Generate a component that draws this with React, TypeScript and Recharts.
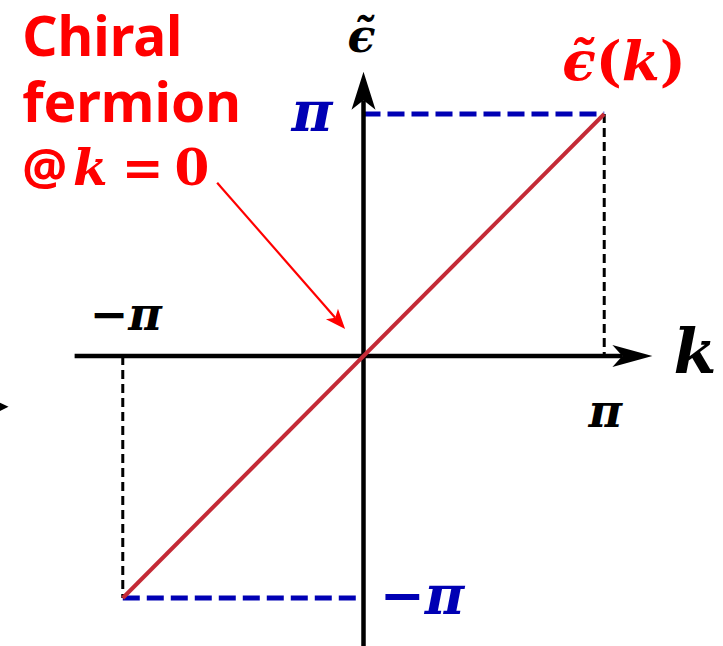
import React from 'react'
import { LineChart, Line, XAxis, YAxis, ReferenceLine, ReferenceDot } from 'recharts'

const PI = Math.PI

// dispersion of the chiral mode across the Brillouin zone
const kValues = [-PI, PI]
const energyValues = [-PI, PI]

const bandData = kValues.map((k, i) => ({ k, e: energyValues[i] }))

// axis extents (beyond the zone edge)
const kAxisRange = [-3.77, 3.77]
const eAxisRange = [-3.8, 3.69]

// annotation arrow pointing at the crossing
const pointerFrom = { k: -1.91, e: 2.25 }
const pointerTo = { k: -0.24, e: 0.35 }

const RED = '#ff0000'
const BLUE = '#0000b4'
const MATH = '"DejaVu Serif", serif'
const SANS = '"Noto Sans", sans-serif'
const EPS = 'ϵ\u0303'

// line with a swept-back arrowhead at its end
const arrowShape = (head: number, half: number, width: number, color: string) => (p: any) => {
    const { x1, y1, x2, y2 } = p
    const len = Math.hypot(x2 - x1, y2 - y1)
    const ux = (x2 - x1) / len
    const uy = (y2 - y1) / len
    const bx = x2 - ux * head
    const by = y2 - uy * head
    const nx = -uy
    const ny = ux
    const notch = head * 0.25
    const pts = [
        [x2, y2],
        [bx + nx * half, by + ny * half],
        [bx + ux * notch, by + uy * notch],
        [bx - nx * half, by - ny * half],
    ]
    return (
        <g>
            <line x1={x1} y1={y1} x2={bx + ux * notch} y2={by + uy * notch} stroke={color} strokeWidth={width} />
            <polygon points={pts.map((q) => q.join(',')).join(' ')} fill={color} />
        </g>
    )
}

// text placed relative to a reference point
const tag = (dx: number, dy: number, content: React.ReactNode, style: any) => (p: any) => (
    <text x={p.cx + dx} y={p.cy + dy} {...style}>
        {content}
    </text>
)

const mathStyle = (fill: string, fontSize: number, extra: any = {}) => ({
    fill,
    fontFamily: MATH,
    fontWeight: 'bold',
    fontStyle: 'italic',
    fontSize,
    ...extra,
})

// annotation block beside the pointer
const noteShape = (p: any) => {
    const x = p.cx - 195
    return (
        <text x={x} y={p.cy - 127} fill={RED} fontWeight="bold">
            <tspan fontFamily={SANS} fontSize={55}>Chiral</tspan>
            <tspan x={x} dy={66} fontFamily={SANS} fontSize={55}>fermion</tspan>
            <tspan x={x} dy={63} fontFamily={SANS} fontSize={50}>@</tspan>
            <tspan dx={6} fontFamily={MATH} fontStyle="italic" fontSize={50}>k</tspan>
            <tspan dx={14} fontFamily={MATH} fontSize={50}>=</tspan>
            <tspan dx={11} fontFamily={MATH} fontSize={50}>0</tspan>
        </text>
    )
}

const App = () => {
    return (
        <div style={{ position: 'absolute', left: 0, top: 0, width: 723, height: 646, overflow: 'hidden', background: '#fff' }}>
            <LineChart width={723} height={646} data={bandData} margin={{ top: 71, right: 53, bottom: 5, left: 57 }}>
                <XAxis dataKey="k" type="number" domain={[-4, 4]} hide />
                <YAxis type="number" domain={[-3.7, 3.7]} hide />

                {/* guides to the zone edges */}
                <ReferenceLine segment={[{ x: 0, y: PI }, { x: PI, y: PI }]} stroke={BLUE} strokeWidth={5} strokeDasharray="17 7" ifOverflow="visible" />
                <ReferenceLine segment={[{ x: -PI, y: -PI }, { x: 0, y: -PI }]} stroke={BLUE} strokeWidth={5} strokeDasharray="17 7" ifOverflow="visible" />
                <ReferenceLine segment={[{ x: PI, y: PI }, { x: PI, y: 0 }]} stroke="#000" strokeWidth={3} strokeDasharray="9 5" ifOverflow="visible" />
                <ReferenceLine segment={[{ x: -PI, y: 0 }, { x: -PI, y: -PI }]} stroke="#000" strokeWidth={3} strokeDasharray="9 5" ifOverflow="visible" />

                {/* axes */}
                <ReferenceLine segment={[{ x: kAxisRange[0], y: 0 }, { x: kAxisRange[1], y: 0 }]} ifOverflow="visible" shape={arrowShape(40, 11, 4.5, '#000')} />
                <ReferenceLine segment={[{ x: 0, y: eAxisRange[0] }, { x: 0, y: eAxisRange[1] }]} ifOverflow="visible" shape={arrowShape(38, 12, 4.5, '#000')} />

                <Line dataKey="e" stroke="#c42a36" strokeWidth={4} dot={false} isAnimationActive={false} />

                <ReferenceLine segment={[{ x: pointerFrom.k, y: pointerFrom.e }, { x: pointerTo.k, y: pointerTo.e }]} ifOverflow="visible" shape={arrowShape(20, 8, 2.2, RED)} />

                {/* labels */}
                <ReferenceDot x={0} y={PI} r={0} ifOverflow="visible" shape={tag(-31, 17, 'π', mathStyle(BLUE, 56, { textAnchor: 'end' }))} />
                <ReferenceDot x={0} y={-PI} r={0} ifOverflow="visible" shape={tag(16, 16, '−π', mathStyle(BLUE, 54))} />
                <ReferenceDot x={-PI} y={0} r={0} ifOverflow="visible" shape={tag(3, -26, '−π', mathStyle('#000', 46, { textAnchor: 'middle' }))} />
                <ReferenceDot x={PI} y={0} r={0} ifOverflow="visible" shape={tag(1, 71, 'π', mathStyle('#000', 46, { textAnchor: 'middle' }))} />
                <ReferenceDot x={kAxisRange[1]} y={0} r={0} ifOverflow="visible" shape={tag(21, 17, 'k', mathStyle('#000', 62))} />
                <ReferenceDot x={0} y={eAxisRange[1]} r={0} ifOverflow="visible" shape={tag(-2, -20, EPS, mathStyle('#000', 46, { textAnchor: 'middle' }))} />
                <ReferenceDot
                    x={PI}
                    y={PI}
                    r={0}
                    ifOverflow="visible"
                    shape={tag(-42, -34, <><tspan>{EPS}</tspan><tspan fontStyle="normal">(</tspan><tspan>k</tspan><tspan fontStyle="normal">)</tspan></>, mathStyle(RED, 55))}
                />

                <ReferenceDot x={pointerFrom.k} y={pointerFrom.e} r={0} ifOverflow="visible" shape={noteShape} />

                {/* partial arrowhead at the left edge */}
                <ReferenceDot x={-4.75} y={-0.66} r={0} ifOverflow="visible" shape={(p: any) => <polygon points={`${p.cx - 12},${p.cy - 10} ${p.cx + 9},${p.cy} ${p.cx - 12},${p.cy + 10}`} fill="#000" />} />
            </LineChart>
        </div>
    )
}

export default App
